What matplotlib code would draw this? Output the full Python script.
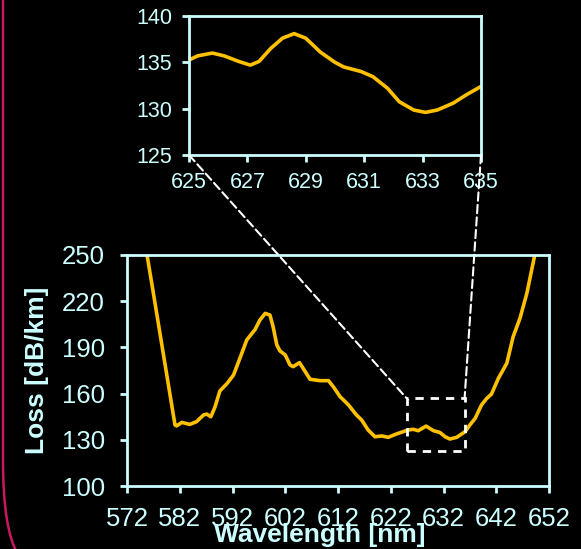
import matplotlib
matplotlib.use("Agg")
import matplotlib.pyplot as plt
from matplotlib.patches import Rectangle, ConnectionPatch, PathPatch
from matplotlib.path import Path

plt.rcParams["font.family"] = ["Liberation Sans", "DejaVu Sans"]

# main spectrum
wavelength = [575.0, 575.8, 576.9, 581.1, 581.4, 582.4, 583.9, 585.2, 586.5, 587.1,
              587.9, 588.7, 589.6, 591.0, 592.2, 593.4, 594.7, 596.3, 597.2, 598.2,
              599.1, 599.7, 600.4, 601.0, 602.0, 602.9, 603.5, 604.7, 605.6, 606.7,
              608.6, 610.2, 611.1, 612.4, 614.0, 615.5, 616.5, 617.7, 619.0, 620.3,
              621.5, 623.1, 625.3, 626.3, 627.2, 628.7, 630.1, 631.3, 632.3, 633.2,
              634.5, 636.1, 637.0, 638.0, 639.2, 640.2, 641.1, 642.4, 644.0, 645.2,
              646.5, 647.8, 649.3, 650.0]
loss = [268, 250, 227.3, 139.6, 139.0, 141.3, 140.0, 141.8, 146.1, 146.7,
        145.0, 151.5, 161.7, 166.7, 172.1, 182.9, 194.8, 201.7, 207.8, 212.1,
        211.0, 203.4, 191.6, 187.7, 185.1, 178.6, 177.5, 180.1, 175.3, 169.3,
        168.4, 168.4, 164.5, 158.0, 152.6, 146.1, 142.8, 136.4, 132.0, 132.5,
        131.6, 133.8, 136.4, 136.8, 135.9, 138.9, 135.9, 134.8, 132.0, 130.5,
        131.6, 135.3, 139.6, 143.9, 152.6, 156.9, 159.7, 169.9, 179.7, 196.9,
        208.9, 225.1, 250.0, 261]

# zoomed region 625-635 nm
zoom_wl = [625.0, 625.3, 625.8, 626.2, 626.7, 627.1, 627.4, 627.8, 628.2, 628.6,
           629.0, 629.5, 630.0, 630.3, 630.9, 631.3, 631.8, 632.2, 632.7, 633.1,
           633.5, 634.05, 634.5, 635.0]
zoom_loss = [135.25, 135.7, 136.0, 135.7, 135.1, 134.7, 135.1, 136.5, 137.6, 138.1,
             137.6, 136.1, 135.0, 134.5, 134.0, 133.45, 132.2, 130.75, 129.85, 129.6,
             129.85, 130.6, 131.5, 132.4]

main_xticks = list(range(572, 653, 10))
main_yticks = [100, 130, 160, 190, 220, 250]
zoom_xticks = [625, 627, 629, 631, 633, 635]
zoom_yticks = [125, 130, 135, 140]

cyan = "#CCFFFF"
gold = "#FFC000"

fig = plt.figure(figsize=(5.81, 5.49), dpi=100, facecolor="black")

# main axes
ax = fig.add_axes([127/581, 1 - 486/549, 422/581, 231/549], facecolor="black")
ax.plot(wavelength, loss, color=gold, lw=2.6, solid_joinstyle="round",
        solid_capstyle="round")
ax.set_xlim(572, 652)
ax.set_ylim(100, 250)
ax.set_xticks(main_xticks)
ax.set_yticks(main_yticks)
ax.tick_params(colors=cyan, labelsize=18.5, length=5, width=2, pad=10)
ax.tick_params(axis="y", pad=11)
for s in ax.spines.values():
    s.set_color(cyan)
    s.set_linewidth(2)
ax.set_xlabel("Wavelength [nm]", color=cyan, fontsize=19, fontweight="bold")
ax.xaxis.set_label_coords(0.456, -0.212)
ax.xaxis.label.set_va("center")
ax.set_ylabel("Loss [dB/km]", color=cyan, fontsize=19, fontweight="bold")
ax.yaxis.set_label_coords(-0.213, 0.502)
ax.yaxis.label.set_va("center")

# dashed box marking the zoomed region
box = Rectangle((625, 123), 11, 34, fill=False, ec="white", lw=2, ls=(0, (3, 2.5)),
                clip_on=False, zorder=5)
ax.add_patch(box)

# inset axes
ins = fig.add_axes([189/581, 1 - 155/549, 292/581, 139/549], facecolor="black")
ins.plot(zoom_wl, zoom_loss, color=gold, lw=2.6, solid_joinstyle="round",
         solid_capstyle="round")
ins.set_xlim(625, 635)
ins.set_ylim(125, 140)
ins.set_xticks(zoom_xticks)
ins.set_yticks(zoom_yticks)
ins.tick_params(colors=cyan, labelsize=15.5, length=5, width=2, pad=7)
for s in ins.spines.values():
    s.set_color(cyan)
    s.set_linewidth(2)

# connector lines
for xa, xb in [(625, 625), (635, 636)]:
    con = ConnectionPatch(xyA=(xa, 125), coordsA="data", axesA=ins,
                          xyB=(xb, 157), coordsB="data", axesB=ax,
                          color="white", lw=1.5, ls=(0, (4, 2)), zorder=6)
    fig.add_artist(con)

# pink frame edge at the left
verts = [(3/581, 1.01), (3/581, 1 - 460/549), (3/581, 1 - 530/549), (18/581, -0.01)]
codes = [Path.MOVETO, Path.LINETO, Path.CURVE3, Path.CURVE3]
frame = PathPatch(Path(verts, codes), transform=fig.transFigure, fill=False,
                  ec="#C8185E", lw=1.8)
fig.add_artist(frame)

plt.savefig("out.png", dpi=100, facecolor="black")
